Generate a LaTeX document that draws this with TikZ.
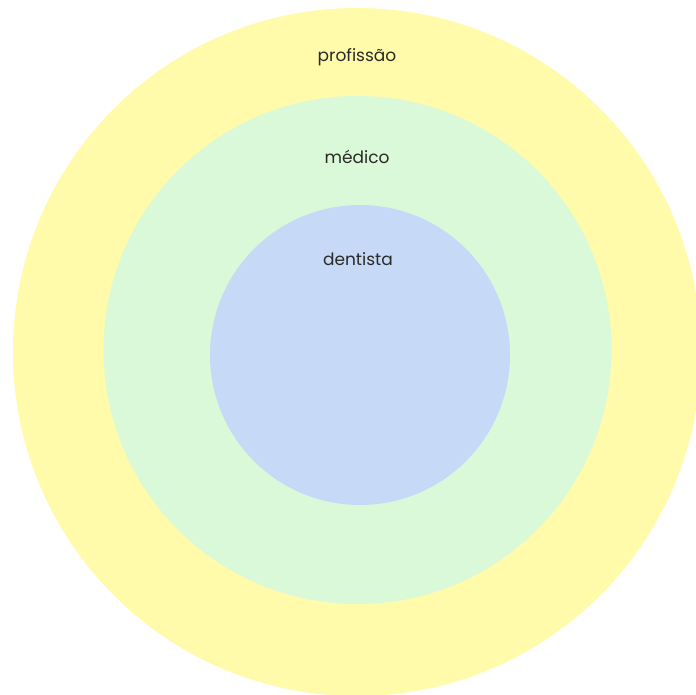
\documentclass[tikz,border=0pt]{standalone}
\usepackage{fontspec}
\setmainfont{Poppins}
\definecolor{cyellow}{HTML}{FFFBAA}
\definecolor{cgreen}{HTML}{DAF9D8}
\definecolor{cblue}{HTML}{C6DAF8}
\definecolor{ctext}{HTML}{2A2A26}
\begin{document}
\begin{tikzpicture}[x=1pt,y=-1pt,
  lbl/.style={font=\fontsize{17}{19}\selectfont, text=ctext, inner sep=0pt}]
\fill[white] (0,0) rectangle (696,695);
\useasboundingbox (0,0) rectangle (696,695);
\fill[cyellow] (357,352) circle (344);
\fill[cgreen] (357.5,350) circle (254);
\fill[cblue] (360,355) circle (150);
\node[lbl] (prof) at (357,57) {profissão};
\node[lbl] (med) at (357,157) {médico};
\node[lbl] (dent) at (358,259) {dentista};
\end{tikzpicture}
\end{document}
